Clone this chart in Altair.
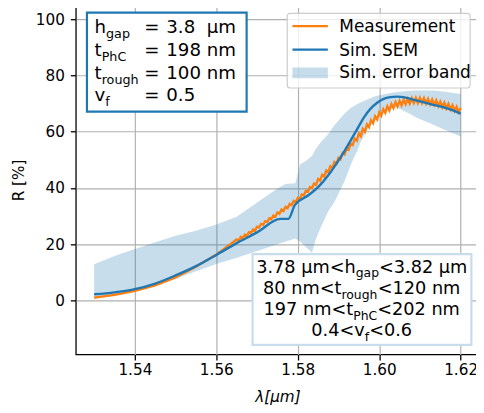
import altair as alt
import pandas as pd

FONT = "DejaVu Sans"
ORANGE = "#ff7f0e"
BLUE = "#1f77b4"
BAND = "#c7ddec"

# ---------------- data ----------------
meas_lam_smooth = [1.530, 1.535, 1.540, 1.545, 1.550, 1.555, 1.560]
meas_r_smooth = [1.0, 2.0, 3.4, 5.4, 8.2, 12.0, 16.3]

meas_peak_lam = [1.565, 1.566, 1.567, 1.568, 1.569, 1.570, 1.571, 1.572, 1.573, 1.574,
                 1.575, 1.576, 1.577, 1.578, 1.579, 1.580, 1.581, 1.582, 1.583, 1.584,
                 1.585, 1.586, 1.587, 1.588, 1.589, 1.590, 1.591, 1.592, 1.593, 1.594,
                 1.595, 1.596, 1.597, 1.598, 1.599, 1.600, 1.601, 1.602, 1.603, 1.604,
                 1.605, 1.606, 1.607, 1.608, 1.609, 1.610, 1.611, 1.612, 1.613, 1.614,
                 1.615, 1.616, 1.617, 1.618, 1.619, 1.620]
meas_peak_r = [21.7, 22.6, 23.4, 24.3, 25.2, 26.2, 27.2, 28.2, 29.2, 30.2,
               31.3, 32.3, 33.3, 34.3, 35.4, 36.5, 37.7, 39.0, 40.3, 41.6,
               43.2, 44.7, 46.2, 47.7, 49.2, 50.7, 52.4, 54.1, 55.8, 57.5,
               59.4, 61.0, 62.6, 64.1, 65.5, 66.9, 68.0, 69.0, 69.8, 70.5,
               71.0, 71.4, 71.7, 71.9, 72.0, 72.0, 71.9, 71.7, 71.4, 71.1,
               70.7, 70.3, 69.9, 69.4, 68.9, 68.4]

meas_trough_lam = [1.5655, 1.5665, 1.5675, 1.5685, 1.5695, 1.5705, 1.5715, 1.5725, 1.5735, 1.5745,
                   1.5755, 1.5765, 1.5775, 1.5785, 1.5795, 1.5805, 1.5815, 1.5825, 1.5835, 1.5845,
                   1.5855, 1.5865, 1.5875, 1.5885, 1.5895, 1.5905, 1.5915, 1.5925, 1.5935, 1.5945,
                   1.5955, 1.5965, 1.5975, 1.5985, 1.5995, 1.6005, 1.6015, 1.6025, 1.6035, 1.6045,
                   1.6055, 1.6065, 1.6075, 1.6085, 1.6095, 1.6105, 1.6115, 1.6125, 1.6135, 1.6145,
                   1.6155, 1.6165, 1.6175, 1.6185, 1.6195]
meas_trough_r = [21.3, 22.2, 23.0, 24.0, 24.9, 25.9, 26.9, 27.9, 28.9, 29.8,
                 30.8, 31.8, 32.8, 33.9, 35.0, 36.1, 37.4, 38.7, 40.0, 41.1,
                 42.6, 44.1, 45.6, 47.1, 48.6, 50.2, 51.9, 53.6, 55.3, 56.8,
                 58.4, 60.0, 61.6, 63.0, 64.4, 65.7, 66.7, 67.6, 68.4, 69.0,
                 69.4, 69.8, 70.0, 70.2, 70.2, 70.2, 70.0, 69.8, 69.5, 69.1,
                 68.7, 68.3, 67.9, 67.4, 66.9]

sim_lam = [1.530, 1.535, 1.540, 1.545, 1.550, 1.555, 1.560, 1.565, 1.570, 1.5757,
           1.5777, 1.5793, 1.5826, 1.585, 1.588, 1.5907, 1.5947, 1.5963, 1.5979, 1.5995,
           1.6011, 1.6027, 1.6044, 1.606, 1.6076, 1.610, 1.6124, 1.6173, 1.620]
sim_r = [2.2, 2.9, 4.0, 6.0, 8.9, 12.2, 16.2, 20.4, 24.2, 29.0,
         29.0, 34.0, 37.4, 40.3, 45.5, 51.3, 61.2, 65.2, 68.2, 70.3,
         71.7, 72.3, 72.5, 72.3, 71.7, 70.8, 69.9, 68.0, 66.4]

band_lam = [1.530, 1.535, 1.540, 1.545, 1.550, 1.555, 1.560, 1.565, 1.571, 1.575,
            1.577, 1.5794, 1.5806, 1.582, 1.5835, 1.5845, 1.5858, 1.5874, 1.5891, 1.5915,
            1.5931, 1.5947, 1.5955, 1.5987, 1.5995, 1.6028, 1.6045, 1.6076, 1.6092, 1.6132,
            1.6156, 1.620]
band_upper = [12.9, 15.8, 18.3, 20.7, 23.0, 24.8, 27.0, 29.8, 35.8, 39.8,
              41.4, 41.7, 48.4, 49.6, 51.5, 54.0, 56.5, 59.0, 62.5, 66.5,
              68.5, 69.9, 70.5, 72.4, 72.8, 73.8, 74.1, 74.6, 74.7, 74.7,
              74.3, 73.4]
band_lower = [0.5, 1.7, 3.1, 5.2, 7.6, 10.4, 13.0, 15.2, 18.0, 20.0,
              21.0, 22.0, 21.0, 19.0, 17.0, 22.0, 26.5, 31.5, 35.3, 42.5,
              48.5, 53.5, 56.5, 64.7, 66.5, 68.7, 68.5, 66.3, 65.0, 62.6,
              61.0, 58.3]

x_ticks = [1.54, 1.56, 1.58, 1.60, 1.62]
y_ticks = [0, 20, 40, 60, 80, 100]

legend_labels = ["Measurement", "Sim. SEM", "Sim. error band"]

# ---------------- tables ----------------
meas_df = pd.DataFrame({
    "lam": meas_lam_smooth + meas_peak_lam + meas_trough_lam,
    "R": meas_r_smooth + meas_peak_r + meas_trough_r,
}).sort_values("lam")
sim_df = pd.DataFrame({"lam": sim_lam, "R": sim_r})
band_df = pd.DataFrame({"lam": band_lam, "lo": band_lower, "hi": band_upper})
one = pd.DataFrame({"k": [0]})

XDOM = [1.5255, 1.6245]
YDOM = [-19.2, 104.9]

xaxis = alt.Axis(values=x_ticks, format=".2f", title="λ[μm]",
                 titleFontStyle="italic", titleFontWeight="normal",
                 labelFontSize=15.5, titleFontSize=15.5, labelFont=FONT, titleFont=FONT,
                 labelColor="black", titleColor="black",
                 tickSize=5.6, tickWidth=1.3, tickColor="black", domain=False,
                 grid=True, gridColor="#b0b0b0", gridWidth=1.2,
                 labelPadding=2.5, titlePadding=12, labelFlush=False)
yaxis = alt.Axis(values=y_ticks, title="R [%]", titleFontWeight="normal",
                 labelFontSize=15.5, titleFontSize=15.5, labelFont=FONT, titleFont=FONT,
                 labelColor="black", titleColor="black",
                 tickSize=5.6, tickWidth=1.3, tickColor="black", domain=False,
                 grid=True, gridColor="#b0b0b0", gridWidth=1.2,
                 labelPadding=6, titlePadding=9, labelFlush=False)
xscale = alt.Scale(domain=XDOM, nice=False, zero=False)
yscale = alt.Scale(domain=YDOM, nice=False, zero=False)

band = alt.Chart(band_df).mark_area(color=BLUE, opacity=0.25).encode(
    x=alt.X("lam:Q", scale=xscale, axis=xaxis),
    y=alt.Y("lo:Q", scale=yscale, axis=yaxis),
    y2="hi:Q")
meas = alt.Chart(meas_df).mark_line(color=ORANGE, strokeWidth=2.4).encode(
    x=alt.X("lam:Q", scale=xscale, axis=xaxis),
    y=alt.Y("R:Q", scale=yscale, axis=yaxis))
sim = alt.Chart(sim_df).mark_line(color=BLUE, strokeWidth=2.4, interpolate="monotone").encode(
    x=alt.X("lam:Q", scale=xscale, axis=xaxis),
    y=alt.Y("R:Q", scale=yscale, axis=yaxis))

# ---------------- annotation helpers (pixel positions) ----------------
WID = {c: 1303 for c in "0123456789"}
WID.update({".": 651, " ": 651, "\u00a0": 651, "<": 1716, "=": 1716, "μ": 1300, "m": 1995,
            "n": 1298, "h": 1298, "t": 803, "v": 1212, "f": 721, "g": 1300, "a": 1255,
            "p": 1300, "r": 842, "o": 1253, "u": 1298, "P": 1235, "C": 1430})


def tw(s, fs):
    return sum(WID.get(c, 1250) for c in s) / 2048.0 * fs


def txt(s, x, y, fs, **kw):
    return alt.Chart(one).mark_text(align="left", baseline="alphabetic", font=FONT,
                                    fontSize=fs, color="black", **kw).encode(
        x=alt.value(x), y=alt.value(y), text=alt.value(s))


def box(x1, y1, x2, y2, **kw):
    return alt.Chart(one).mark_rect(**kw).encode(
        x=alt.value(x1), x2=alt.value(x2), y=alt.value(y1), y2=alt.value(y2))


layers = [band, meas, sim]

# top-left parameter box
F1 = 18.5
S1 = F1 * 0.7
layers.append(box(11.3, 7.3, 173.7, 108, fill="white", stroke=BLUE, strokeWidth=2.2))
tl_main = ["h", "t", "t", "v"]
tl_sub = ["gap", "PhC", "rough", "f"]
tl_val = ["3.8\u00a0\u00a0μm", "198 nm", "100 nm", "0.5"]
tl_base = [28.5, 51.5, 75.0, 97.5]
for m, s, v, yb in zip(tl_main, tl_sub, tl_val, tl_base):
    layers.append(txt(m, 19, yb, F1))
    layers.append(txt(s, 19 + tw(m, F1), yb + 5, S1))
    layers.append(txt("=", 69.5, yb, F1))
    layers.append(txt(v, 92, yb, F1))

# legend
layers.append(box(215, 8, 401, 84, fill="white", fillOpacity=0.8, stroke="#cccccc",
                  strokeWidth=1.2, cornerRadius=3))
layers.append(alt.Chart(one).mark_rule(color=ORANGE, strokeWidth=2.4).encode(
    x=alt.value(220.3), x2=alt.value(256.3), y=alt.value(21)))
layers.append(alt.Chart(one).mark_rule(color=BLUE, strokeWidth=2.4).encode(
    x=alt.value(220.3), x2=alt.value(256.3), y=alt.value(45)))
layers.append(box(220.3, 63, 256.3, 74, fill=BLUE, fillOpacity=0.25, strokeWidth=0))
for lab, yb in zip(legend_labels, [27.3, 51.3, 74.0]):
    layers.append(txt(lab, 268, yb, 17.2))

# bottom-right range box
F2 = 18.0
S2 = F2 * 0.7
layers.append(box(179.7, 253, 402.3, 345.3, fill="white", stroke=BAND, strokeWidth=2.2))
br_lines = [
    [("3.78 μm<h", 0), ("gap", 1), ("<3.82 μm", 0)],
    [("80 nm<t", 0), ("rough", 1), ("<120 nm", 0)],
    [("197 nm<t", 0), ("PhC", 1), ("<202 nm", 0)],
    [("0.4<v", 0), ("f", 1), ("<0.6", 0)],
]
br_base = [272.0, 293.7, 315.3, 336.3]
cx = 290.8
for segs, yb in zip(br_lines, br_base):
    total = sum(tw(s, S2 if sub else F2) for s, sub in segs)
    x = cx - total / 2
    for s, sub in segs:
        fs = S2 if sub else F2
        layers.append(txt(s, x, yb + (4.5 if sub else 0), fs))
        x += tw(s, fs)

chart = alt.layer(*layers).properties(
    width=410, height=355,
    autosize=alt.AutoSizeParams(type="none"),
    padding={"left": 69, "top": -6, "right": -3, "bottom": 48},
).configure_view(stroke="black", strokeWidth=1.3)

chart.save("out.html", embed_options={"renderer": "svg", "actions": False})
